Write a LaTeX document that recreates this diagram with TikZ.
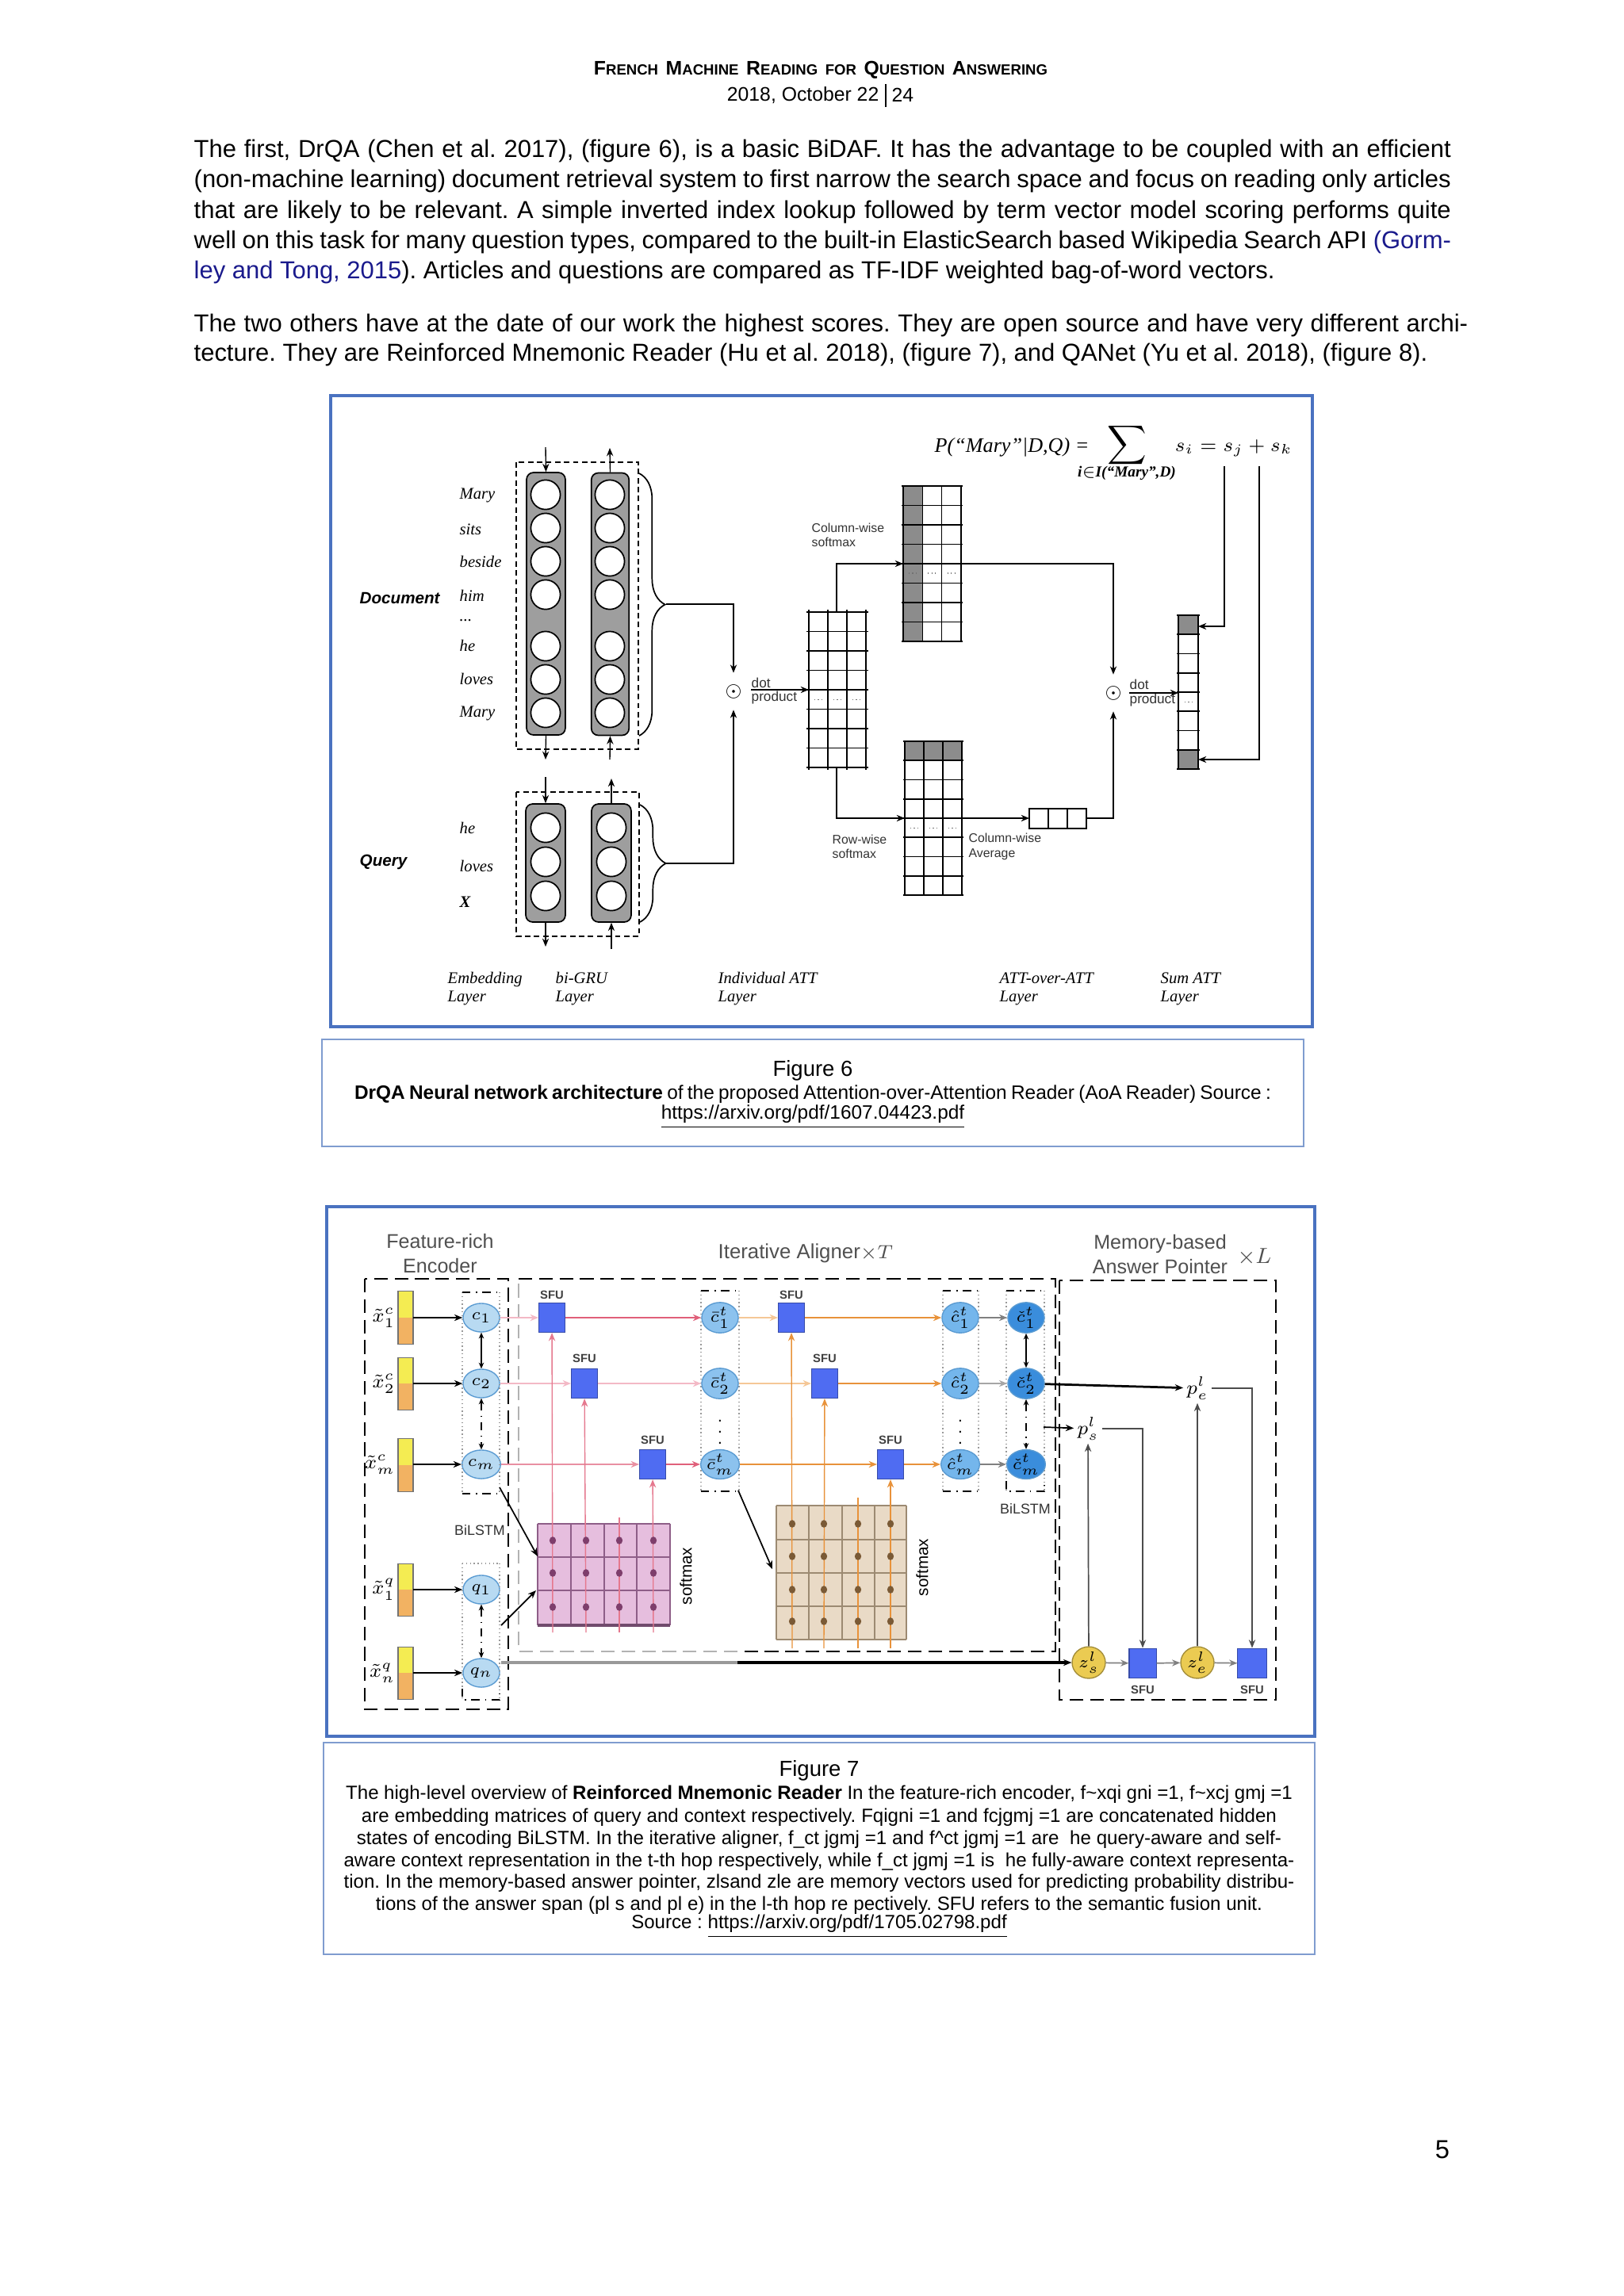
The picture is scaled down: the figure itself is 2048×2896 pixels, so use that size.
\documentclass[tikz,border=0pt]{standalone}
\usepackage[no-math]{fontspec}
\setmainfont{Liberation Sans}
\newfontfamily\tnr{Liberation Serif}
\usetikzlibrary{arrows.meta,shapes.geometric,decorations.pathreplacing,calc}
\definecolor{figblue}{HTML}{4A72C0}
\definecolor{capblue}{HTML}{7F9CCF}
\definecolor{linkblue}{HTML}{1A1A8C}
\definecolor{sfublue}{HTML}{4F6CF2}
\definecolor{cfill}{HTML}{B8DAF2}
\definecolor{cdraw}{HTML}{5A9BD2}
\definecolor{cbarfill}{HTML}{8CC2EE}
\definecolor{chatfill}{HTML}{74B6EC}
\definecolor{cchkfill}{HTML}{3A8DDC}
\definecolor{embY}{HTML}{F4EC52}
\definecolor{embO}{HTML}{F2B262}
\definecolor{zfill}{HTML}{EBCB52}
\definecolor{pinkM}{HTML}{E6BEDE}
\definecolor{pinkG}{HTML}{8E5E88}
\definecolor{pinkD}{HTML}{7E3E6C}
\definecolor{beigeM}{HTML}{E9DAC6}
\definecolor{beigeG}{HTML}{9C8A72}
\definecolor{beigeD}{HTML}{7A5A36}
\definecolor{redA}{HTML}{E0607A}
\definecolor{pinkA}{HTML}{F3B9C6}
\definecolor{orA}{HTML}{E8923A}
\definecolor{lorA}{HTML}{F5C796}
\definecolor{hdrgray}{HTML}{505050}
\newcommand\hsc[2]{{\fontsize{7.2}{9}\selectfont #1}{\fontsize{5.4}{9}\selectfont #2}}
\newcommand\jline[2]{\makebox[#1][s]{#2}}
\frenchspacing
\begin{document}
\begin{tikzpicture}[x=0.2907pt,y=-0.2907pt,
  arr/.style={-{Stealth[length=3pt,width=2.4pt]}},
  darr/.style={{Stealth[length=2.2pt,width=1.9pt]}-{Stealth[length=2.2pt,width=1.9pt]}},
  body/.style={anchor=west,inner sep=0pt,font=\fontsize{9}{11}\selectfont},
  capt/.style={inner sep=0pt,font=\fontsize{7}{8}\selectfont},
  word/.style={anchor=west,inner sep=0pt,font=\tnr\itshape\fontsize{6}{7}\selectfont},
  laybl/.style={anchor=west,align=left,inner sep=0pt,font=\tnr\itshape\fontsize{6}{6.7}\selectfont},
  gcol/.style={draw,fill=black!38,rounded corners=2.5pt,line width=0.5pt},
  wcirc/.style={circle,draw,fill=white,minimum size=10.8pt,inner sep=0pt,line width=0.5pt},
  smalltxt/.style={font=\fontsize{4.6}{5.3}\selectfont,align=left,inner sep=0pt,anchor=west,text=black!80},
  odotn/.style={inner sep=0pt,font=\fontsize{7}{7}\selectfont},
  gridl/.style={line width=0.45pt},
  dotrow/.style={densely dotted,black!55,line width=0.3pt},
  ebox/.style={dash pattern=on 2pt off 1.3pt,line width=0.4pt},
  bigdash/.style={line width=0.8pt,dash pattern=on 5pt off 2.5pt},
  cnode/.style={ellipse,draw=cdraw,fill=cfill,line width=0.4pt,minimum width=13.4pt,minimum height=10.5pt,inner sep=0pt,font=\fontsize{6}{7}\selectfont},
  sfu/.style={rectangle,fill=sfublue,draw=sfublue!70!black,line width=0.3pt,minimum width=9.6pt,minimum height=10.8pt,inner sep=0pt},
  sfulbl/.style={font=\bfseries\fontsize{4.3}{5}\selectfont,inner sep=0pt,text=black!75},
  sideb/.style={black!40,densely dotted,line width=0.4pt},
  topb/.style={black,dash dot,line width=0.5pt}
]
\useasboundingbox (0,0) rectangle (2048,2896);
\fill[white] (0,0) rectangle (2048,2896);

% ---------------- header
\node[inner sep=0pt,font=\bfseries] (hdr) at (1035,88) {\hsc{F}{RENCH} \hsc{M}{ACHINE} \hsc{R}{EADING} {\fontsize{5.4}{9}\selectfont FOR} \hsc{Q}{UESTION} \hsc{A}{NSWERING}};
\node[inner sep=0pt,anchor=east,font=\fontsize{7.2}{9}\selectfont] (hdate) at (1109,120) {2018, October 22};
\node[inner sep=0pt,anchor=west,font=\fontsize{7.2}{9}\selectfont] (hpage) at (1124,120) {24};
\draw[line width=0.5pt] (1117,106) -- (1117,135);

% ---------------- body text
\node[body] (t1) at (244,190) {\jline{460.8pt}{The first, DrQA (Chen et al. 2017), (figure 6), is a basic BiDAF. It has the advantage to be coupled with an efficient}};
\node[body] (t2) at (244,228) {\jline{460.8pt}{(non-machine learning) document retrieval system to first narrow the search space and focus on reading only articles}};
\node[body] (t3) at (244,267) {\jline{460.8pt}{that are likely to be relevant. A simple inverted index lookup followed by term vector model scoring performs quite}};
\node[body] (t4) at (244,305) {\jline{460.8pt}{well on this task for many question types, compared to the built-in ElasticSearch based Wikipedia Search API \textcolor{linkblue}{(Gorm-}}};
\node[body] (t5) at (244,343) {\textcolor{linkblue}{ley and Tong, 2015}). Articles and questions are compared as TF-IDF weighted bag-of-word vectors.};
\node[body] (t6) at (244,410) {\jline{467pt}{The two others have at the date of our work the highest scores. They are open source and have very different archi-}};
\node[body] (t7) at (244,447) {tecture. They are Reinforced Mnemonic Reader (Hu et al. 2018), (figure 7), and QANet (Yu et al. 2018), (figure 8).};

% ================= FIGURE 6
\draw[figblue,line width=0.9pt] (417,499) rectangle (1655,1295);

\node[anchor=west,inner sep=0pt,font=\bfseries\itshape\fontsize{6}{7}\selectfont] (docl) at (453,754) {Document};
\node[anchor=west,inner sep=0pt,font=\bfseries\itshape\fontsize{6}{7}\selectfont] (qryl) at (453,1087) {Query};
\node[word] (w1) at (579,625) {Mary};
\node[word] (w2) at (579,668) {sits};
\node[word] (w3) at (579,708) {beside};
\node[word] (w4) at (579,751) {him};
\node[word] (w5) at (579,783) {...};
\node[word] (w6) at (579,814) {he};
\node[word] (w7) at (579,856) {loves};
\node[word] (w8) at (579,900) {Mary};
\node[word] (w9) at (579,1044) {he};
\node[word] (w10) at (579,1092) {loves};
\node[word,font=\tnr\bfseries\itshape\fontsize{6}{7}\selectfont] (w11) at (579,1138) {X};

\draw[ebox] (651,583) rectangle (805,945);
\draw[ebox] (651,999) rectangle (806,1181);

\node[gcol,minimum width=14.2pt,minimum height=96.2pt] (dL) at (688.5,761.5) {};
\node[gcol,minimum width=13.8pt,minimum height=96.2pt] (dR) at (769.5,762) {};
\foreach \y [count=\k] in {624,666,708,750,815,857,899} {
  \node[wcirc] (dl\k) at (688,\y) {};
  \node[wcirc] (dr\k) at (769,\y) {};
}
\node[gcol,minimum width=14.5pt,minimum height=43.3pt] (qL) at (688,1088.5) {};
\node[gcol,minimum width=14.5pt,minimum height=43.3pt] (qR) at (771,1088.5) {};
\foreach \y [count=\k] in {1044,1087,1130} {
  \node[wcirc] (ql\k) at (688,\y) {};
  \node[wcirc] (qr\k) at (771,\y) {};
}
\coordinate (dLin) at (688,564);  \draw[arr] (dLin) -- (dL.north);
\coordinate (dLout) at (688,958); \draw[arr] (dL.south) -- (dLout);
\coordinate (dRin) at (769,958);  \draw[arr] (dRin) -- (dR.south);
\coordinate (dRout) at (769,565); \draw[arr] (dR.north) -- (dRout);
\coordinate (qLin) at (688,980);  \draw[arr] (qLin) -- (qL.north);
\coordinate (qLout) at (688,1194);\draw[arr] (qL.south) -- (qLout);
\coordinate (qRin) at (771,1197); \draw[arr] (qRin) -- (qR.south);
\coordinate (qRout) at (771,982); \draw[arr] (qR.north) -- (qRout);

\draw[line width=0.5pt,decorate,decoration={brace,amplitude=9.5pt}] (806,597) -- (806,928);
\draw[line width=0.5pt,decorate,decoration={brace,amplitude=9.5pt}] (807,1015) -- (807,1163);
\coordinate (dtip) at (840,762);
\coordinate (qtip) at (840,1089);

\node[odotn] (o1) at (925,872) {$\odot$};
\draw[arr,shorten >=4pt] (dtip) -| (o1);
\draw[arr,shorten >=4pt] (qtip) -| (o1);
\node[smalltxt,font=\fontsize{5}{5.5}\selectfont] (dp1) at (947,861) {dot};
\node[smalltxt,font=\fontsize{5}{5.5}\selectfont] (pp1) at (947,880) {product};
\coordinate (p1s) at (947,870); \coordinate (m1w) at (1020,870);
\draw[arr] (p1s) -- (m1w);

% M1
\foreach \i in {0,...,8} \draw[gridl] (1017,{772+24.5*\i}) -- (1095,{772+24.5*\i});
\foreach \j in {0,...,3} \draw[gridl] ({1020+24*\j},769) -- ({1020+24*\j},971);
\foreach \j in {0,1,2} \draw[dotrow] ({1027+24*\j},882) -- ({1037+24*\j},882);
% M2
\fill[black!45] (1139,613) rectangle (1163.3,809);
\foreach \i in {0,...,8} \draw[gridl] (1137,{613+24.5*\i}) -- (1214,{613+24.5*\i});
\foreach \j in {0,...,3} \draw[gridl] ({1139+24.33*\j},613) -- ({1139+24.33*\j},809);
\foreach \j in {0,1,2} \draw[dotrow] ({1146+24.33*\j},723) -- ({1156+24.33*\j},723);
% M3
\fill[black!45] (1141,935) rectangle (1213,959.25);
\foreach \i in {0,...,8} \draw[gridl] (1139,{935+24.25*\i}) -- (1215,{935+24.25*\i});
\foreach \j in {0,...,3} \draw[gridl] ({1141+24*\j},935) -- ({1141+24*\j},1129);
\foreach \j in {0,1,2} \draw[dotrow] ({1148+24*\j},1044) -- ({1158+24*\j},1044);
% V1
\draw[gridl] (1298,1020) rectangle (1370,1045);
\foreach \j in {1,2} \draw[gridl] ({1298+24*\j},1020) -- ({1298+24*\j},1045);
% V2
\fill[black!45] (1486,776) rectangle (1511,800.25);
\fill[black!45] (1486,945.75) rectangle (1511,970);
\foreach \i in {0,...,8} \draw[gridl] (1484,{776+24.25*\i}) -- (1513,{776+24.25*\i});
\draw[gridl] (1486,776) -- (1486,970);
\draw[gridl] (1511,776) -- (1511,970);
\draw[dotrow] (1494,885) -- (1503,885);

\coordinate (m1t) at (1055,772); \coordinate (m2w) at (1139,711);
\draw[arr] (m1t) |- (m2w);
\coordinate (m1b) at (1055,968); \coordinate (m3w) at (1141,1032);
\draw[arr] (m1b) |- (m3w);
\coordinate (m3e) at (1213,1032); \coordinate (v1w) at (1298,1032);
\draw[arr] (m3e) -- (v1w);
\node[smalltxt] (cws) at (1023,675) {Column-wise\\softmax};
\node[smalltxt] (rws) at (1049,1068) {Row-wise\\softmax};
\node[smalltxt] (cwa) at (1221,1068) {Column-wise\\Average};

\node[odotn] (o2) at (1404,874) {$\odot$};
\coordinate (v1e) at (1370,1032); \draw[arr,shorten >=4pt] (v1e) -| (o2);
\coordinate (m2e) at (1212,711); \draw[arr,shorten >=4pt] (m2e) -| (o2);
\node[smalltxt,font=\fontsize{5}{5.5}\selectfont] (dp2) at (1424,863) {dot};
\node[smalltxt,font=\fontsize{5}{5.5}\selectfont] (pp2) at (1424,883) {product};
\coordinate (p2s) at (1424,874); \coordinate (v2w) at (1486,874);
\draw[arr] (p2s) -- (v2w);

\node[anchor=west,inner sep=0pt,font=\tnr\itshape\fontsize{7.6}{9}\selectfont] (pform) at (1178,564) {P(“Mary”|D,Q) =};
\node[inner sep=0pt,font=\fontsize{8.5}{9}\selectfont] (sig) at (1421,562) {$\displaystyle\sum$};
\node[inner sep=0pt,font=\tnr\bfseries\itshape\fontsize{5.6}{6}\selectfont] (sigsub) at (1421,597) {i$\in$I(“Mary”,D)};
\node[anchor=west,inner sep=0pt,font=\fontsize{7.4}{9}\selectfont] (sform) at (1481,565) {$s_i = s_j + s_k$};
\coordinate (sjb) at (1544,588); \coordinate (v2r1) at (1511,790);
\draw[arr] (sjb) |- (v2r1);
\coordinate (skb) at (1588,588); \coordinate (v2r8) at (1511,958);
\draw[arr] (skb) |- (v2r8);

\node[laybl] (lay1) at (564,1247) {Embedding\\Layer};
\node[laybl] (lay2) at (700,1247) {bi-GRU\\Layer};
\node[laybl] (lay3) at (905,1247) {Individual ATT\\Layer};
\node[laybl] (lay4) at (1260,1247) {ATT-over-ATT\\Layer};
\node[laybl] (lay5) at (1463,1247) {Sum ATT\\Layer};

% caption 6
\draw[capblue,line width=0.7pt] (406,1311) rectangle (1644,1446);
\node[capt,font=\fontsize{8}{9}\selectfont] (f6a) at (1025,1350) {Figure 6};
\node[capt,font=\fontsize{7.1}{8}\selectfont] (f6b) at (1025,1380) {\jline{336pt}{\textbf{DrQA Neural network architecture} of the proposed Attention-over-Attention Reader (AoA Reader) Source :}};
\node[capt,font=\fontsize{7.1}{8}\selectfont] (f6c) at (1025,1409) {\underline{https://arxiv.org/pdf/1607.04423.pdf}};

% ================= FIGURE 7
\draw[figblue,line width=1.3pt] (412,1522) rectangle (1658,2190);

\node[align=center,inner sep=0pt,text=hdrgray,font=\fontsize{7.3}{9}\selectfont] (fre) at (555,1581) {Feature-rich\\Encoder};
\node[inner sep=0pt,text=hdrgray,font=\fontsize{7.5}{9}\selectfont] (ial) at (1016,1581) {Iterative Aligner$\times T$};
\node[align=center,inner sep=0pt,text=hdrgray,font=\fontsize{7.3}{9}\selectfont] (map) at (1463,1582) {Memory-based\\Answer Pointer};
\node[inner sep=0pt,text=hdrgray,font=\fontsize{8}{9}\selectfont] (xl) at (1582,1586) {$\times L$};

% dashed boxes
\draw[bigdash] (460,1613) rectangle (641,2156);
\draw[bigdash] (654,1613) -- (1331,1613) -- (1331,2083) -- (930,2083);
\draw[bigdash,black!30] (930,2083) -- (654,2083) -- (654,1613);
\draw[bigdash] (1336,1615) rectangle (1609,2144);

% embeddings
\foreach \t/\b [count=\k] in {1628/1695,1712/1778,1814/1881,1972/2038,2077/2143} {
  \fill[embY] (502,\t) rectangle (521,{(\t+\b)/2});
  \fill[embO] (502,{(\t+\b)/2}) rectangle (521,\b);
  \draw[black!55,line width=0.3pt] (502,\t) rectangle (521,\b);
}
\node[anchor=east,inner sep=0pt,font=\fontsize{7.2}{8}\selectfont] (lx1) at (499,1662) {$\tilde{x}^c_1$};
\node[anchor=east,inner sep=0pt,font=\fontsize{7.2}{8}\selectfont] (lx2) at (499,1745) {$\tilde{x}^c_2$};
\node[anchor=east,inner sep=0pt,font=\fontsize{7.2}{8}\selectfont] (lx3) at (499,1847) {$\tilde{x}^c_m$};
\node[anchor=east,inner sep=0pt,font=\fontsize{7.2}{8}\selectfont] (lx4) at (499,2005) {$\tilde{x}^q_1$};
\node[anchor=east,inner sep=0pt,font=\fontsize{7.2}{8}\selectfont] (lx5) at (499,2110) {$\tilde{x}^q_n$};

\node[cnode] (c1) at (607,1662) {$c_1$};
\node[cnode] (c2) at (607,1745) {$c_2$};
\node[cnode] (cm) at (607,1847) {$c_m$};
\node[cnode] (q1) at (607,2005) {$q_1$};
\node[cnode] (qn) at (607,2110) {$q_n$};
\coordinate (be1) at (521,1662); \coordinate (be2) at (521,1745); \coordinate (be3) at (521,1847);
\coordinate (be4) at (521,2005); \coordinate (be5) at (521,2110);
\draw[arr,line width=0.6pt] (be1) -- (c1);
\draw[arr,line width=0.6pt] (be2) -- (c2);
\draw[arr,line width=0.6pt] (be3) -- (cm);
\draw[arr,line width=0.6pt] (be4) -- (q1);
\draw[arr,line width=0.6pt] (be5) -- (qn);
\draw[darr,line width=0.4pt] (c1) -- (c2);
\draw[darr,line width=0.4pt,dash dot] (c2) -- (cm);
\draw[darr,line width=0.4pt,dash dot] (q1) -- (qn);
% encoder column boxes
\draw[sideb] (583,1630) -- (583,1884); \draw[sideb] (630,1630) -- (630,1884);
\draw[topb] (583,1630) -- (630,1630); \draw[topb] (583,1884) -- (630,1884);
\draw[sideb] (583,1972) -- (583,2144); \draw[sideb] (630,1972) -- (630,2144);
\draw[sideb] (583,1972) -- (630,1972);
\draw[topb] (583,2130) -- (583,2144) -- (630,2144) -- (630,2130);
\node[inner sep=0pt,font=\fontsize{5.2}{6}\selectfont,text=black!80] (bil1) at (605,1930) {BiLSTM};

% aligner column boxes
\draw[sideb] (884,1628) -- (884,1881); \draw[sideb] (932,1628) -- (932,1881);
\draw[topb] (884,1628) -- (932,1628); \draw[topb] (884,1881) -- (932,1881);
\draw[sideb] (1189,1628) -- (1189,1881); \draw[sideb] (1234,1628) -- (1234,1881);
\draw[topb] (1189,1628) -- (1234,1628); \draw[topb] (1189,1881) -- (1234,1881);
\draw[sideb] (1269,1628) -- (1269,1881); \draw[sideb] (1317,1628) -- (1317,1881);
\draw[topb] (1269,1628) -- (1317,1628);
\draw[topb] (1269,1868) -- (1269,1881) -- (1317,1881) -- (1317,1868);

% SFUs
\node[sfu] (s11) at (696,1662) {};  \node[sfulbl] (s11l) at (696,1633) {SFU};
\node[sfu] (s12) at (737,1745) {};  \node[sfulbl] (s12l) at (737,1713) {SFU};
\node[sfu] (s1m) at (823,1847) {};  \node[sfulbl] (s1ml) at (823,1816) {SFU};
\node[sfu] (s21) at (998,1662) {};  \node[sfulbl] (s21l) at (998,1633) {SFU};
\node[sfu] (s22) at (1040,1745) {}; \node[sfulbl] (s22l) at (1040,1713) {SFU};
\node[sfu] (s2m) at (1123,1847) {}; \node[sfulbl] (s2ml) at (1123,1816) {SFU};

% context columns
\node[cnode,fill=cbarfill] (cb1) at (908,1662) {$\bar{c}^t_1$};
\node[cnode,fill=cbarfill] (cb2) at (908,1745) {$\bar{c}^t_2$};
\node[cnode,fill=cbarfill] (cbm) at (908,1847) {$\bar{c}^t_m$};
\node[inner sep=0pt,font=\fontsize{6}{6}\selectfont] (vd1) at (908,1796) {$\vdots$};
\node[cnode,fill=chatfill] (ch1) at (1211,1662) {$\hat{c}^t_1$};
\node[cnode,fill=chatfill] (ch2) at (1211,1745) {$\hat{c}^t_2$};
\node[cnode,fill=chatfill] (chm) at (1211,1847) {$\hat{c}^t_m$};
\node[inner sep=0pt,font=\fontsize{6}{6}\selectfont] (vd2) at (1211,1796) {$\vdots$};
\node[cnode,fill=cchkfill] (ck1) at (1294,1662) {$\check{c}^t_1$};
\node[cnode,fill=cchkfill] (ck2) at (1294,1745) {$\check{c}^t_2$};
\node[cnode,fill=cchkfill] (ckm) at (1294,1847) {$\check{c}^t_m$};
\draw[darr,line width=0.4pt] (ck1) -- (ck2);
\draw[darr,line width=0.4pt,dash dot] (ck2) -- (ckm);
\node[inner sep=0pt,font=\fontsize{5.2}{6}\selectfont,text=black!80] (bil2) at (1293,1903) {BiLSTM};

% horizontal flows
\draw[arr,pinkA,line width=0.6pt] (c1) -- (s11);
\draw[arr,redA,line width=0.6pt] (s11) -- (cb1);
\draw[arr,lorA,line width=0.6pt] (cb1) -- (s21);
\draw[arr,orA,line width=0.6pt] (s21) -- (ch1);
\draw[arr,black!50,line width=0.5pt] (ch1) -- (ck1);
\draw[arr,pinkA,line width=0.5pt] (c2) -- (s12);
\draw[arr,pinkA,line width=0.5pt] (s12) -- (cb2);
\draw[arr,lorA,line width=0.5pt] (cb2) -- (s22);
\draw[arr,orA,line width=0.6pt] (s22) -- (ch2);
\draw[arr,black!35,line width=0.4pt] (ch2) -- (ck2);
\draw[arr,redA!70,line width=0.6pt] (cm) -- (s1m);
\draw[arr,redA,line width=0.6pt] (s1m) -- (cbm);
\draw[arr,orA,line width=0.6pt] (cbm) -- (s2m);
\draw[arr,orA,line width=0.6pt] (s2m) -- (chm);
\draw[arr,black!50,line width=0.5pt] (chm) -- (ckm);

% pink matrix
\fill[pinkM] (678,1922) rectangle (845,2050);
\foreach \x in {678,720,762,803,845} \draw[pinkG,line width=0.4pt] (\x,1922) -- (\x,2050);
\foreach \y in {1922,1964,2006} \draw[pinkG,line width=0.4pt] (678,\y) -- (845,\y);
\draw[pinkG!80!black,line width=1pt] (678,2050) -- (845,2050);
\coordinate (pv1) at (697,2059); \coordinate (pv2) at (739,2059);
\coordinate (pv3) at (781,2059); \coordinate (pv3t) at (781,1914); \coordinate (pv4) at (824,2059);
\draw[arr,redA!85,line width=0.4pt] (pv1) -- (s11);
\draw[arr,redA!85,line width=0.4pt] (pv2) -- (s12);
\draw[redA!85,line width=0.4pt] (pv3) -- (pv3t);
\draw[arr,redA!85,line width=0.4pt] (pv4) -- (s1m);
\foreach \x in {697,739,781,824} \foreach \y in {1943,1984,2027} \fill[pinkD] (\x,\y) ellipse (1.2pt and 1.4pt);
\node[rotate=90,inner sep=0pt,font=\fontsize{6}{7}\selectfont] (smx1) at (865,1988) {softmax};

% beige matrix
\fill[beigeM] (979,1899) rectangle (1143,2068);
\foreach \x in {979,1020,1062,1103,1143} \draw[beigeG,line width=0.4pt] (\x,1899) -- (\x,2068);
\foreach \y in {1899,1942,1984,2026,2068} \draw[beigeG,line width=0.4pt] (979,\y) -- (1143,\y);
\coordinate (bv1) at (999,2079); \coordinate (bv2) at (1039,2079);
\coordinate (bv3) at (1082,2079); \coordinate (bv3t) at (1082,1889); \coordinate (bv4) at (1123,2079);
\draw[arr,orA,line width=0.4pt] (bv1) -- (s21);
\draw[arr,orA,line width=0.4pt] (bv2) -- (s22);
\draw[orA,line width=0.4pt] (bv3) -- (bv3t);
\draw[arr,orA,line width=0.4pt] (bv4) -- (s2m);
\foreach \x in {999,1039,1082,1123} \foreach \y in {1922,1963,2005,2045} \fill[beigeD] (\x,\y) ellipse (1.2pt and 1.4pt);
\node[rotate=90,inner sep=0pt,font=\fontsize{6}{7}\selectfont] (smx2) at (1163,1977) {softmax};

% black arrows into matrices
\coordinate (cmb) at (630,1876); \coordinate (pmA) at (678,1963);
\draw[arr,line width=0.5pt] (cmb) -- (pmA);
\coordinate (qnb) at (632,2050); \coordinate (pmB) at (676,2006);
\draw[arr,line width=0.5pt] (qnb) -- (pmB);
\coordinate (cbmb) at (931,1880); \coordinate (bmA) at (974,1979);
\draw[arr,line width=0.5pt] (cbmb) -- (bmA);

% answer pointer
\node[ellipse,draw=zfill!70!black,fill=zfill,line width=0.4pt,minimum width=12.2pt,minimum height=11.6pt,inner sep=0pt,font=\fontsize{6}{7}\selectfont] (zs) at (1373,2097) {$z^l_s$};
\node[ellipse,draw=zfill!70!black,fill=zfill,line width=0.4pt,minimum width=12.2pt,minimum height=11.6pt,inner sep=0pt,font=\fontsize{6}{7}\selectfont] (ze) at (1510,2097) {$z^l_e$};
\node[sfu,minimum width=9.9pt,minimum height=11pt] (sa) at (1441,2098) {};
\node[sfu,minimum width=10.5pt,minimum height=11pt] (sb) at (1579,2098) {};
\node[sfulbl] (sal) at (1441,2131) {SFU};
\node[sfulbl] (sbl) at (1579,2131) {SFU};
\draw[arr,black!50,line width=0.5pt] (zs) -- (sa);
\draw[arr,black!50,line width=0.5pt] (sa) -- (ze);
\draw[arr,black!50,line width=0.5pt] (ze) -- (sb);
\node[inner sep=1pt,font=\fontsize{7}{8}\selectfont] (pe) at (1510,1751) {$p^l_e$};
\node[inner sep=1pt,font=\fontsize{7}{8}\selectfont] (ps) at (1372,1802) {$p^l_s$};
\draw[arr,line width=0.8pt] (ck2) -- (pe);
\coordinate (psst) at (1316,1800);
\draw[arr,line width=0.5pt] (psst) -- (ps);
\draw[arr,black!70,line width=0.5pt] (zs) -- (ps);
\draw[arr,black!70,line width=0.5pt] (ze) -- (pe);
\draw[arr,black!70,line width=0.5pt] (ps) -| (sa);
\draw[arr,black!70,line width=0.5pt] (pe) -| (sb);

% query summary line
\coordinate (qnl) at (632,2097); \coordinate (qmid) at (930,2097);
\draw[black!40,line width=0.9pt] (qnl) -- (qmid);
\draw[arr,line width=0.9pt] (qmid) -- (zs);

% caption 7
\draw[capblue,line width=0.7pt] (408,2198) rectangle (1658,2465);
\node[capt,font=\fontsize{8}{9}\selectfont] (f7a) at (1033,2233) {Figure 7};
\node[capt] (f7b) at (1033,2263) {\jline{347pt}{The high-level overview of \textbf{Reinforced Mnemonic Reader} In the feature-rich encoder, f\textasciitilde xqi gni =1, f\textasciitilde xcj gmj =1}};
\node[capt] (f7c) at (1033,2292) {\jline{335.5pt}{are embedding matrices of query and context respectively. Fqigni =1 and fcjgmj =1 are concatenated hidden}};
\node[capt] (f7d) at (1033,2320) {\jline{339pt}{states of encoding BiLSTM. In the iterative aligner, f\_ct jgmj =1 and f\textasciicircum ct jgmj =1 are \ he query-aware and self-}};
\node[capt] (f7e) at (1033,2348) {\jline{348.5pt}{aware context representation in the t-th hop respectively, while f\_ct jgmj =1 is \ he fully-aware context representa-}};
\node[capt] (f7f) at (1033,2375) {\jline{348.5pt}{tion. In the memory-based answer pointer, zlsand zle are memory vectors used for predicting probability distribu-}};
\node[capt] (f7g) at (1033,2403) {\jline{325pt}{tions of the answer span (pl s and pl e) in the l-th hop re pectively. SFU refers to the semantic fusion unit.}};
\node[capt] (f7h) at (1033,2430) {Source : \underline{https://arxiv.org/pdf/1705.02798.pdf}};

% page number
\node[inner sep=0pt,font=\fontsize{9.5}{11}\selectfont] (pgno) at (1819,2711) {5};
\end{tikzpicture}
\end{document}
